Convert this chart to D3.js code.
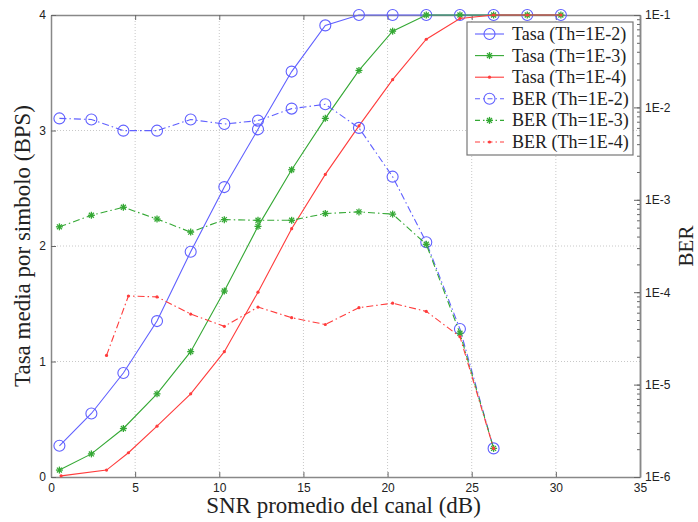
<!DOCTYPE html>
<html>
<head>
<meta charset="utf-8">
<script src="https://cdn.jsdelivr.net/npm/d3@7"></script>
<style>
  body { margin: 0; background: #fff; }
  svg { display: block; }
</style>
</head>
<body>
<div id="chart"></div>
<script>
// SNR (dB) values
const snrA = [0.5, 2.4, 4.3, 6.3, 8.3, 10.3, 12.3, 14.3, 16.3, 18.3, 20.3, 22.3, 24.3, 26.3, 28.3, 30.3];
const snrRed = [0.6, 3.3, 4.6, 6.3, 8.3, 10.3, 12.3, 14.3, 16.3, 18.3, 20.3, 22.3, 24.3, 26.3, 28.3, 30.3];
const snrBer = [0.5, 2.4, 4.3, 6.3, 8.3, 10.3, 12.3, 14.3, 16.3, 18.3, 20.3, 22.3, 24.3, 26.3];
const snrBerRed = [3.3, 4.6, 6.3, 8.3, 10.3, 12.3, 14.3, 16.3, 18.3, 20.3, 22.3, 24.3, 26.3];

// mean rate (bits per symbol)
const tasa2 = [0.27, 0.55, 0.90, 1.35, 1.95, 2.51, 3.01, 3.51, 3.91, 4, 4, 4, 4, 4, 4, 4];
const tasa3 = [0.06, 0.20, 0.42, 0.72, 1.085, 1.61, 2.17, 2.66, 3.105, 3.52, 3.86, 4, 4, 4, 4, 4];
const tasa4 = [0.01, 0.06, 0.21, 0.44, 0.72, 1.085, 1.6, 2.15, 2.62, 3.04, 3.44, 3.79, 3.97, 4, 4, 4];

// BER
const ber2 = [7.6e-3, 7.4e-3, 5.6e-3, 5.6e-3, 7.4e-3, 6.6e-3, 7.2e-3, 9.7e-3, 1.08e-2, 6.0e-3, 1.78e-3, 3.47e-4, 4.0e-5, 2.04e-6];
const ber3 = [5.1e-4, 6.8e-4, 8.3e-4, 6.2e-4, 4.47e-4, 6.1e-4, 6.0e-4, 6.0e-4, 7.1e-4, 7.4e-4, 7.0e-4, 3.3e-4, 3.6e-5, 2.04e-6];
const ber4 = [2.07e-5, 9.1e-5, 8.9e-5, 5.8e-5, 4.27e-5, 6.9e-5, 5.3e-5, 4.47e-5, 6.8e-5, 7.6e-5, 6.2e-5, 3.3e-5, 2.04e-6];

const xTicks = [0, 5, 10, 15, 20, 25, 30, 35];
const yTicks = [0, 1, 2, 3, 4];
const berTicks = [1e-6, 1e-5, 1e-4, 1e-3, 1e-2, 1e-1];
const berLabels = ['1E-6', '1E-5', '1E-4', '1E-3', '1E-2', '1E-1'];

const blue = '#6060ff', green = '#34a834', red = '#ff3c3c';

const series = [
  { name: 'Tasa (Th=1E-2)', x: snrA, y: tasa2, axis: 'left', color: blue, dash: null, marker: 'circle' },
  { name: 'Tasa (Th=1E-3)', x: snrA, y: tasa3, axis: 'left', color: green, dash: null, marker: 'star' },
  { name: 'Tasa (Th=1E-4)', x: snrRed, y: tasa4, axis: 'left', color: red, dash: null, marker: 'dot' },
  { name: 'BER (Th=1E-2)', x: snrBer, y: ber2, axis: 'right', color: blue, dash: '7,3,1.5,3', marker: 'circle' },
  { name: 'BER (Th=1E-3)', x: snrBer, y: ber3, axis: 'right', color: green, dash: '7,3,1.5,3', marker: 'star' },
  { name: 'BER (Th=1E-4)', x: snrBerRed, y: ber4, axis: 'right', color: red, dash: '7,3,1.5,3', marker: 'dot' }
];

const W = 698, H = 522;
const margin = { top: 15, right: 58, bottom: 45, left: 51 };
const width = W - margin.left - margin.right;
const height = H - margin.top - margin.bottom;

const svg = d3.select('#chart').append('svg')
  .attr('width', W).attr('height', H);
const g = svg.append('g').attr('transform', `translate(${margin.left},${margin.top})`);

const x = d3.scaleLinear().domain([0, 35]).range([0, width]);
const y = d3.scaleLinear().domain([0, 4]).range([height, 0]);
const yr = d3.scaleLog().domain([1e-6, 1e-1]).range([height, 0]);

// grid
g.append('g').selectAll('line').data(xTicks.slice(1, -1)).enter().append('line')
  .attr('x1', d => x(d)).attr('x2', d => x(d)).attr('y1', 0).attr('y2', height)
  .attr('stroke', '#c8c8c8').attr('stroke-dasharray', '1,2');
g.append('g').selectAll('line').data(yTicks.slice(1, -1)).enter().append('line')
  .attr('x1', 0).attr('x2', width).attr('y1', d => y(d)).attr('y2', d => y(d))
  .attr('stroke', '#c8c8c8').attr('stroke-dasharray', '1,2');

// axes
const axisColor = '#888';
const fontTick = 'Liberation Sans';
const fontTitle = 'Liberation Serif';

const xAxis = g.append('g').attr('transform', `translate(0,${height})`)
  .call(d3.axisBottom(x).tickValues(xTicks).tickSizeInner(-5).tickSizeOuter(0).tickPadding(6).tickFormat(d3.format('d')));
const xTop = g.append('g')
  .call(d3.axisTop(x).tickValues(xTicks).tickSizeInner(-5).tickSizeOuter(0).tickFormat(''));
const yAxis = g.append('g')
  .call(d3.axisLeft(y).tickValues(yTicks).tickSizeInner(-5).tickSizeOuter(0).tickPadding(5).tickFormat(d3.format('d')));
const yRight = g.append('g').attr('transform', `translate(${width},0)`)
  .call(d3.axisRight(yr).tickSizeInner(-3).tickSizeOuter(0).tickFormat(''));
const yRightMajor = g.append('g').attr('transform', `translate(${width},0)`)
  .call(d3.axisRight(yr).tickValues(berTicks).tickSizeInner(-6).tickSizeOuter(0).tickPadding(5)
    .tickFormat((d, i) => berLabels[i]));

[xAxis, xTop, yAxis, yRight, yRightMajor].forEach(a => {
  a.attr('font-family', fontTick).attr('font-size', 12);
  a.select('.domain').attr('stroke', axisColor).attr('stroke-width', 1.5);
  a.selectAll('.tick line').attr('stroke', '#666');
  a.selectAll('text').attr('fill', '#222');
});

// series
series.forEach(s => {
  const sy = s.axis === 'left' ? y : yr;
  const pts = s.x.map((v, i) => [v, s.y[i]]);
  const line = d3.line().x(d => x(d[0])).y(d => sy(d[1]));
  g.append('path').datum(pts)
    .attr('d', line).attr('fill', 'none')
    .attr('stroke', s.color).attr('stroke-width', 1.1)
    .attr('stroke-dasharray', s.dash);
  drawMarkers(g, pts.map(d => [x(d[0]), sy(d[1])]), s);
});

function drawMarkers(parent, pts, s) {
  const mg = parent.append('g');
  pts.forEach(([px, py]) => drawMarker(mg, px, py, s));
}

function drawMarker(parent, px, py, s) {
  if (s.marker === 'circle') {
    parent.append('circle').attr('cx', px).attr('cy', py).attr('r', 5.5)
      .attr('fill', 'none').attr('stroke', s.color).attr('stroke-width', 1.1);
  } else if (s.marker === 'star') {
    const r = 3.5;
    [0, 45, 90, 135].forEach(a => {
      const dx = r * Math.cos(a * Math.PI / 180), dy = r * Math.sin(a * Math.PI / 180);
      parent.append('line').attr('x1', px - dx).attr('y1', py - dy).attr('x2', px + dx).attr('y2', py + dy)
        .attr('stroke', s.color).attr('stroke-width', 1.3);
    });
  } else {
    parent.append('circle').attr('cx', px).attr('cy', py).attr('r', 1.6).attr('fill', s.color);
  }
}

// axis titles
svg.append('text').attr('x', margin.left + width / 2 - 2).attr('y', 513)
  .attr('text-anchor', 'middle').attr('font-family', fontTitle).attr('font-size', 23).attr('fill', '#222')
  .text('SNR promedio del canal (dB)');
svg.append('text').attr('transform', `translate(30,${margin.top + height / 2}) rotate(-90)`)
  .attr('text-anchor', 'middle').attr('font-family', fontTitle).attr('font-size', 23).attr('fill', '#222')
  .text('Tasa media por simbolo (BPS)');
svg.append('text').attr('transform', `translate(693,${margin.top + height / 2}) rotate(-90)`)
  .attr('text-anchor', 'middle').attr('font-family', fontTitle).attr('font-size', 21).attr('fill', '#222')
  .text('BER');

// legend
const lg = svg.append('g').attr('transform', 'translate(467,22)');
lg.append('rect').attr('width', 166).attr('height', 133)
  .attr('fill', '#fff').attr('stroke', '#777').attr('stroke-width', 1.2);
series.forEach((s, i) => {
  const ly = 12 + i * 21.6;
  lg.append('line').attr('x1', 8).attr('x2', 37).attr('y1', ly).attr('y2', ly)
    .attr('stroke', s.color).attr('stroke-width', 1.1).attr('stroke-dasharray', s.dash ? '5,3,1.5,3' : null);
  drawMarker(lg, 22.5, ly, s);
  lg.append('text').attr('x', 45).attr('y', ly + 6)
    .attr('font-family', fontTitle).attr('font-size', 18).attr('fill', '#222')
    .text(s.name);
});
</script>
</body>
</html>
